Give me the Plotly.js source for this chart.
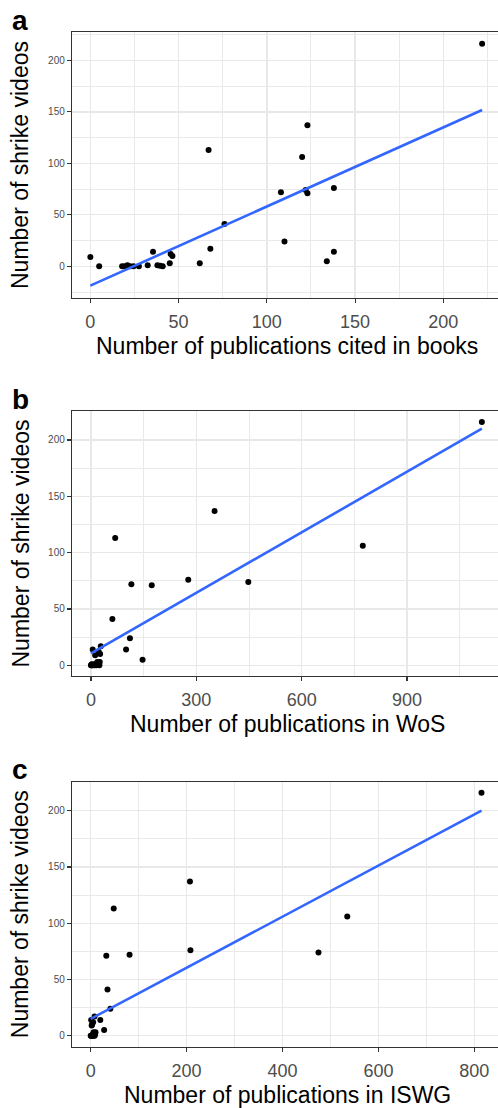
<!DOCTYPE html>
<html>
<head>
<meta charset="utf-8">
<script src="https://cdn.plot.ly/plotly-3.0.1.min.js"></script>
<style>
  html, body { margin: 0; padding: 0; background: #ffffff; overflow: hidden; }
  #chart { width: 498px; height: 1108px; }
</style>
</head>
<body>
<div id="chart"></div>
<script>
// ---- Data ----
// Panel a: publications cited in books vs shrike videos
const booksX = [0, 5, 18, 19.5, 21, 22.5, 24.5, 27.5, 32.5, 35.5, 38, 39.5, 41, 45, 45.5, 46.5, 62, 68,
                67, 76, 108, 110, 120, 122, 123, 123, 134, 138, 138, 222];
const booksY = [9, 0, 0, 0, 1, 0, 0, 0, 1, 14, 1, 0.5, 0, 3, 12, 10, 3, 17,
                113, 41, 72, 24, 106, 74, 71, 137, 5, 76, 14, 216];
const booksFitX = [0, 222];
const booksFitY = [-18.8, 151.7];

// Panel b: publications in WoS vs shrike videos
const wosX = [12, 1, 3, 6, 8, 10, 15, 24, 14, 5, 2, 20, 0, 25, 22, 26, 18, 28,
              69, 61, 115, 111, 774, 448, 173, 352, 147, 277, 100, 1113];
const wosY = [9, 0, 0, 0, 1, 0, 0, 0, 1, 14, 1, 0.5, 0, 3, 12, 10, 3, 17,
              113, 41, 72, 24, 106, 74, 71, 137, 5, 76, 14, 216];
const wosFitX = [0, 1113];
const wosFitY = [10.5, 210];

// Panel c: publications in ISWG vs shrike videos
const iswgX = [2, 0, 1, 2, 4, 3, 4, 6, 7, 1, 9, 5, 8, 10, 5, 3, 6, 8,
               48, 35, 81, 41, 535, 475, 32.5, 207, 28, 208, 20, 815];
const iswgY = [9, 0, 0, 0, 1, 0, 0, 0, 1, 14, 1, 0.5, 0, 3, 12, 10, 3, 17,
               113, 41, 72, 24, 106, 74, 71, 137, 5, 76, 14, 216];
const iswgFitX = [0, 815];
const iswgFitY = [15, 200];

const yTickVals = [0, 50, 100, 150, 200];
const panelLabels = ["a", "b", "c"];
const xTitles = ["Number of publications cited in books", "Number of publications in WoS", "Number of publications in ISWG"];
const yTitle = "Number of shrike videos";

// ---- Styling / layout ----
const W = 498, H = 1108;
const FONT = '"Liberation Sans", Arial, Helvetica, sans-serif';
const px = v => v / W;
const py = v => 1 - v / H;

const pointColor = "#000000";
const lineColor = "#3366FF";

function pts(x, y, xa, ya) {
  return { x: x, y: y, xaxis: xa, yaxis: ya, type: "scatter", mode: "markers",
           marker: { color: pointColor, size: 6 }, showlegend: false, hoverinfo: "skip" };
}
function fit(x, y, xa, ya) {
  return { x: x, y: y, xaxis: xa, yaxis: ya, type: "scatter", mode: "lines",
           line: { color: lineColor, width: 2.6 }, showlegend: false, hoverinfo: "skip" };
}

const data = [
  pts(booksX, booksY, "x", "y"), fit(booksFitX, booksFitY, "x", "y"),
  pts(wosX, wosY, "x2", "y2"), fit(wosFitX, wosFitY, "x2", "y2"),
  pts(iswgX, iswgY, "x3", "y3"), fit(iswgFitX, iswgFitY, "x3", "y3")
];

const gridMajor = "#E8E8E8";
function xAxis(range, dtick, anchor) {
  return {
    domain: [px(72), 1], range: range, anchor: anchor,
    tickmode: "linear", tick0: 0, dtick: dtick,
    showgrid: true, gridcolor: gridMajor, gridwidth: 1.4,
    minor: { dtick: dtick / 2, tick0: 0, showgrid: true, gridcolor: gridMajor, gridwidth: 0.9, ticks: "" },
    zeroline: false, showline: true, mirror: true, linecolor: "#333333", linewidth: 1.2,
    ticks: "outside", ticklen: 4, tickwidth: 1.1, tickcolor: "#333333",
    ticklabelstandoff: 3,
    tickfont: { family: FONT, size: 18, color: "#4D4D4D" },
    fixedrange: true
  };
}
function yAxis(range, domain, anchor) {
  return {
    domain: domain, range: range, anchor: anchor,
    tickmode: "array", tickvals: yTickVals, ticktext: yTickVals.map(String),
    showgrid: true, gridcolor: gridMajor, gridwidth: 1.4,
    minor: { dtick: 25, tick0: 0, showgrid: true, gridcolor: gridMajor, gridwidth: 0.9, ticks: "" },
    zeroline: false, showline: true, mirror: true, linecolor: "#333333", linewidth: 1.2,
    ticks: "outside", ticklen: 4, tickwidth: 1.1, tickcolor: "#333333",
    tickfont: { family: FONT, size: 10, color: "#4D4D4D" },
    fixedrange: true
  };
}

const panels = [
  { top: 32, bottom: 298 },
  { top: 411, bottom: 676 },
  { top: 781.7, bottom: 1046.7 }
];

const annotations = [];
panels.forEach((p, i) => {
  annotations.push({
    text: "<b>" + panelLabels[i] + "</b>", xref: "paper", yref: "paper",
    x: px(10), y: py(p.top - 12), xanchor: "left", yanchor: "middle", showarrow: false,
    font: { family: FONT, size: 28, color: "#000000" }
  });
  annotations.push({
    text: xTitles[i], xref: "paper", yref: "paper",
    x: px(287), y: py(p.bottom + 48), xanchor: "center", yanchor: "middle", showarrow: false,
    font: { family: FONT, size: 23, color: "#000000" }
  });
  annotations.push({
    text: yTitle, xref: "paper", yref: "paper", textangle: -90,
    x: px(20), y: py((p.top + p.bottom) / 2), xanchor: "center", yanchor: "middle", showarrow: false,
    font: { family: FONT, size: 23, color: "#000000" }
  });
});

const layout = {
  width: W, height: H,
  margin: { l: 0, r: 0, t: 0, b: 0, pad: 0 },
  paper_bgcolor: "#ffffff", plot_bgcolor: "#ffffff",
  font: { family: FONT },
  showlegend: false,
  xaxis: xAxis([-10.4, 231], 50, "y"),
  yaxis: yAxis([-30.8, 227.5], [py(298), py(32)], "x"),
  xaxis2: xAxis([-54, 1159], 300, "y2"),
  yaxis2: yAxis([-9.5, 225.7], [py(676), py(411)], "x2"),
  xaxis3: xAxis([-39, 849.4], 200, "y3"),
  yaxis3: yAxis([-9.8, 225.8], [py(1046.7), py(781.7)], "x3"),
  annotations: annotations
};

Plotly.newPlot("chart", data, layout, { staticPlot: true, displayModeBar: false });
</script>
</body>
</html>
